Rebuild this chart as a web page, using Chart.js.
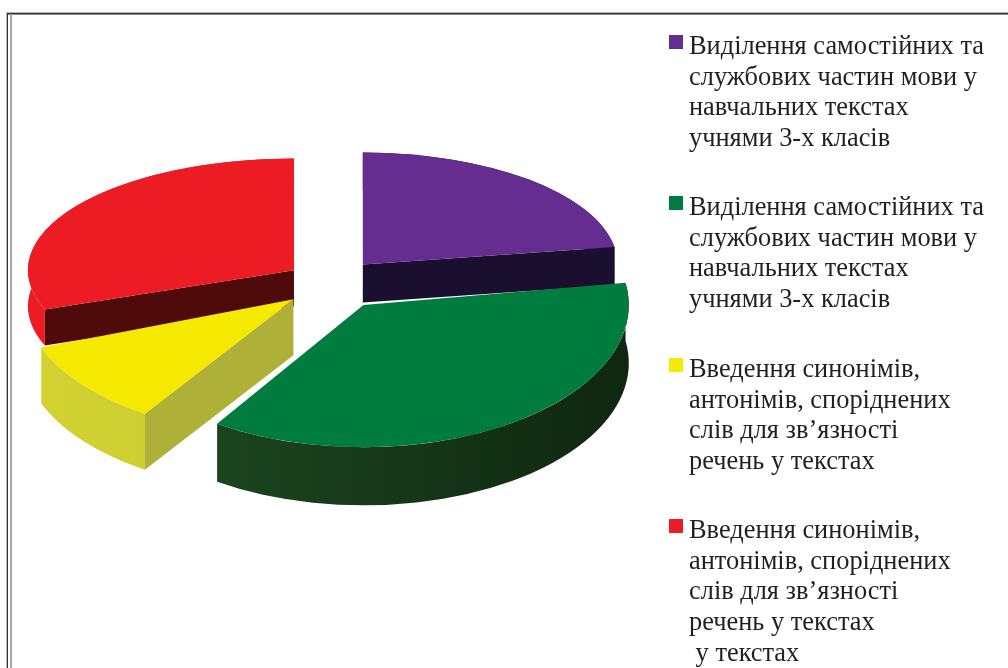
<!DOCTYPE html>
<html lang="uk">
<head>
<meta charset="utf-8">
<title>Діаграма</title>
<script src="https://cdn.jsdelivr.net/npm/chart.js@4"></script>
<style>
    html, body { margin: 0; padding: 0; background: #fff; }
    body { position: relative; width: 1008px; height: 668px; overflow: hidden; }
    #pie { position: absolute; left: 0; top: 0; }
    .frame { position: absolute; }
    #frame-top { left: 6px; right: 0; top: 13px; height: 1px; background: #333; box-shadow: 0 -1px 0 #bbb, 0 1px 0 #888; }
    #frame-left { left: 7px; top: 13px; bottom: 0; width: 1px; background: #333; box-shadow: -1px 0 0 #bbb; }
    #frame-inner { left: 10px; top: 14px; bottom: 0; width: 2px; background: #a6a6a6; }
    .swatch { position: absolute; left: 669px; width: 14px; height: 14px; }
    .label {
        position: absolute; left: 689px; white-space: pre; color: #231f20;
        font: 26.4px/30.7px "Liberation Serif", serif;
    }
</style>
</head>
<body>
<div class="frame" id="frame-top"></div>
<div class="frame" id="frame-left"></div>
<div class="frame" id="frame-inner"></div>
<canvas id="pie" width="1008" height="668"></canvas>
<div id="legend"></div>
<script>
// values (share of the circle, %)
const shares = [22.5, 36.8, 10.0, 30.7];

const labels = [
    ['Виділення самостійних та', 'службових частин мови у', 'навчальних текстах', 'учнями 3-х класів'],
    ['Виділення самостійних та', 'службових частин мови у', 'навчальних текстах', 'учнями 3-х класів'],
    ['Введення синонімів,', 'антонімів, споріднених', 'слів для зв’язності', 'речень у текстах'],
    ['Введення синонімів,', 'антонімів, споріднених', 'слів для зв’язності', 'речень у текстах', ' у текстах']
];

const topColors = ['#662d91', '#007c3e', '#f5e900', '#ed1c24'];
const wallColors = [['#1a0f2e', '#1a0f2e'], ['#1f4d24', '#0f2710'], ['#d2d330', '#bdbd36'], ['#ed1c24', '#ed1c24']];
const faceColors = ['#1a0f2e', '#1f4d24', '#aeb038', '#4f0a0a'];
const legendTops = [30, 191, 353, 514];

// fake 3D: each slice has its own tilt, size, wall height and draw order
const tilts = [0.44, 0.536, 0.51, 0.42];
const sizes = [0.965, 1.005, 1.02, 1.008];
const depths = [38, 58, 56, 36];
const explode = [49, 60, 48, 45];
const lifts = [0, -3, 3, 0];
const drawOrder = [3, 0, 2, 1];

function sliceCenter(arc, i) {
    const mid = (arc.startAngle + arc.endAngle) / 2;
    return {
        x: arc.x + Math.cos(mid) * explode[i],
        y: arc.y + tilts[i] * Math.sin(mid) * explode[i] + lifts[i]
    };
}

function drawWalls(ctx, arc, i) {
    const c = sliceCenter(arc, i);
    const r = arc.outerRadius * sizes[i], tilt = tilts[i], d = depths[i];

    const grad = ctx.createLinearGradient(c.x - r, 0, c.x + r, 0);
    grad.addColorStop(0, wallColors[i][0]);
    grad.addColorStop(1, wallColors[i][1]);

    ctx.beginPath();
    ctx.ellipse(c.x, c.y, r, r * tilt, 0, arc.startAngle, arc.endAngle);
    ctx.ellipse(c.x, c.y + d, r, r * tilt, 0, arc.endAngle, arc.startAngle, true);
    ctx.closePath();
    ctx.fillStyle = grad;
    ctx.fill();

    // only the cut face turned to the viewer is drawn
    const startShows = Math.sin(arc.startAngle) > 0 && Math.cos(arc.startAngle) < 0;
    const endShows = Math.cos(arc.endAngle) > 0 && Math.sin(arc.endAngle) < 0;
    const a = startShows ? arc.startAngle : (endShows ? arc.endAngle : null);
    if (a === null) return;
    const ex = c.x + Math.cos(a) * r;
    const ey = c.y + Math.sin(a) * r * tilt;
    ctx.beginPath();
    ctx.moveTo(c.x, c.y);
    ctx.lineTo(ex, ey);
    ctx.lineTo(ex, ey + d);
    ctx.lineTo(c.x, c.y + d);
    ctx.closePath();
    ctx.fillStyle = faceColors[i];
    ctx.fill();
}

const pie3d = {
    id: 'pie3d',
    beforeDatasetsDraw(chart) {
        const ctx = chart.ctx;
        const arcs = chart.getDatasetMeta(0).data;
        drawOrder.forEach(i => {
            const arc = arcs[i];
            const c = sliceCenter(arc, i);
            ctx.save();
            drawWalls(ctx, arc, i);
            ctx.translate(c.x, c.y);
            ctx.scale(sizes[i], sizes[i] * tilts[i]);
            ctx.translate(-arc.x, -arc.y);
            arc.draw(ctx);
            ctx.restore();
        });
        return false;
    }
};

new Chart(document.getElementById('pie').getContext('2d'), {
    type: 'pie',
    data: {
        labels: labels.map(l => l.join(' ')),
        datasets: [{
            data: shares,
            backgroundColor: topColors,
            borderWidth: 0
        }]
    },
    options: {
        responsive: false,
        animation: false,
        radius: 264,
        layout: { padding: { right: 346, bottom: 106 } },
        plugins: { legend: { display: false }, tooltip: { enabled: false } }
    },
    plugins: [pie3d]
});

const legend = document.getElementById('legend');
labels.forEach((lines, i) => {
    const sw = document.createElement('div');
    sw.className = 'swatch';
    sw.style.top = (legendTops[i] + 5) + 'px';
    sw.style.background = topColors[i];
    legend.appendChild(sw);
    const txt = document.createElement('div');
    txt.className = 'label';
    txt.style.top = legendTops[i] + 'px';
    txt.textContent = lines.join('\n');
    legend.appendChild(txt);
});
</script>
</body>
</html>
